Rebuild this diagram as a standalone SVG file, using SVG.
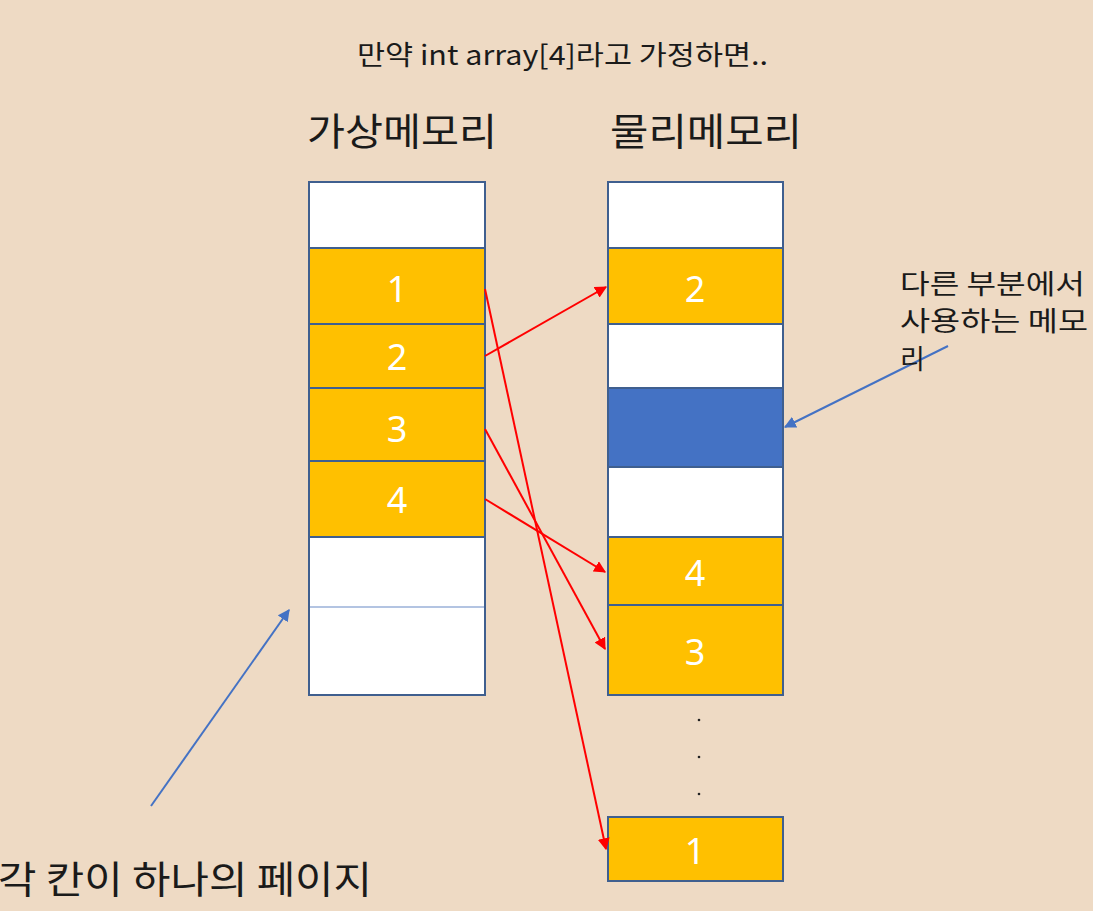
<svg xmlns="http://www.w3.org/2000/svg" width="1093" height="911" viewBox="0 0 1093 911">
<defs>
<style>
.t{font-family:"Noto Sans CJK KR","Noto Sans",sans-serif;fill:#1a1a1a}
.n{font-family:"Noto Sans","Noto Sans CJK KR",sans-serif;fill:#ffffff;font-size:36px;text-anchor:middle}
.w{fill:#ffffff;stroke:#3f5f8f;stroke-width:2}
.o{fill:#ffc000;stroke:#3f5f8f;stroke-width:2}
.b{fill:#4472c4;stroke:#3f5f8f;stroke-width:2}
.ra{stroke:#ff0000;stroke-width:2;fill:none;marker-end:url(#rh)}
.ba{stroke:#4472c4;stroke-width:2;fill:none;marker-end:url(#bh)}
</style>
<marker id="rh" viewBox="0 0 10 10" refX="9" refY="5" markerWidth="6" markerHeight="6" orient="auto" markerUnits="strokeWidth"><path d="M0,0 L10,5 L0,10 z" fill="#ff0000"/></marker>
<marker id="bh" viewBox="0 0 10 10" refX="9" refY="5" markerWidth="6" markerHeight="6" orient="auto" markerUnits="strokeWidth"><path d="M0,0 L10,5 L0,10 z" fill="#4472c4"/></marker>
</defs>
<rect x="0" y="0" width="1093" height="911" fill="#eedac4"/>
<text class="t" x="357" y="65" font-size="27" textLength="411" lengthAdjust="spacingAndGlyphs">만약 int array[4]라고 가정하면..</text>
<text class="t" x="307" y="145" font-size="38" textLength="190" lengthAdjust="spacingAndGlyphs">가상메모리</text>
<text class="t" x="610" y="145" font-size="38" textLength="192" lengthAdjust="spacingAndGlyphs">물리메모리</text>

<g id="virtual">
<rect class="w" x="309" y="182" width="176" height="66"/>
<g id="v1"><rect class="o" x="309" y="248" width="176" height="76"/><text class="n" x="397" y="302">1</text></g>
<g id="v2"><rect class="o" x="309" y="324" width="176" height="64"/><text class="n" x="397" y="370">2</text></g>
<g id="v3"><rect class="o" x="309" y="388" width="176" height="73"/><text class="n" x="397" y="442">3</text></g>
<g id="v4"><rect class="o" x="309" y="461" width="176" height="76"/><text class="n" x="397" y="513">4</text></g>
<rect class="w" x="309" y="537" width="176" height="158"/>
<line x1="310" y1="607" x2="484" y2="607" stroke="#9ab0d8" stroke-width="1.5"/>
</g>

<g id="physical">
<rect class="w" x="608" y="182" width="175" height="66"/>
<g id="p2"><rect class="o" x="608" y="248" width="175" height="76"/><text class="n" x="695" y="302">2</text></g>
<rect class="w" x="608" y="324" width="175" height="64"/>
<g id="pused"><rect class="b" x="608" y="388" width="175" height="79"/></g>
<rect class="w" x="608" y="467" width="175" height="70"/>
<g id="p4"><rect class="o" x="608" y="537" width="175" height="68"/><text class="n" x="695" y="586">4</text></g>
<g id="p3"><rect class="o" x="608" y="605" width="175" height="90"/><text class="n" x="695" y="665">3</text></g>
<circle cx="699" cy="720" r="1.3" fill="#222"/>
<circle cx="699" cy="757" r="1.3" fill="#222"/>
<circle cx="699" cy="794" r="1.3" fill="#222"/>
<g id="p1"><rect class="o" x="608" y="817" width="175" height="64"/><text class="n" x="695" y="864">1</text></g>
</g>

<g id="connectors">
<line class="ra" x1="485" y1="289" x2="606" y2="849"/>
<line class="ra" x1="485" y1="356" x2="606" y2="287"/>
<line class="ra" x1="485" y1="429" x2="605" y2="649"/>
<line class="ra" x1="485" y1="499" x2="605" y2="572"/>
<line class="ba" x1="948" y1="346" x2="785" y2="427"/>
<line class="ba" x1="151" y1="806" x2="289" y2="610"/>
</g>

<g id="note-right">
<text class="t" x="900" y="294" font-size="27" textLength="185" lengthAdjust="spacingAndGlyphs">다른 부분에서</text>
<text class="t" x="900" y="331" font-size="27" textLength="188" lengthAdjust="spacingAndGlyphs">사용하는 메모</text>
<text class="t" x="900" y="369" font-size="27">리</text>
</g>
<g id="note-left">
<text class="t" x="-2" y="893" font-size="38" textLength="374" lengthAdjust="spacingAndGlyphs">각 칸이 하나의 페이지</text>
</g>
</svg>
